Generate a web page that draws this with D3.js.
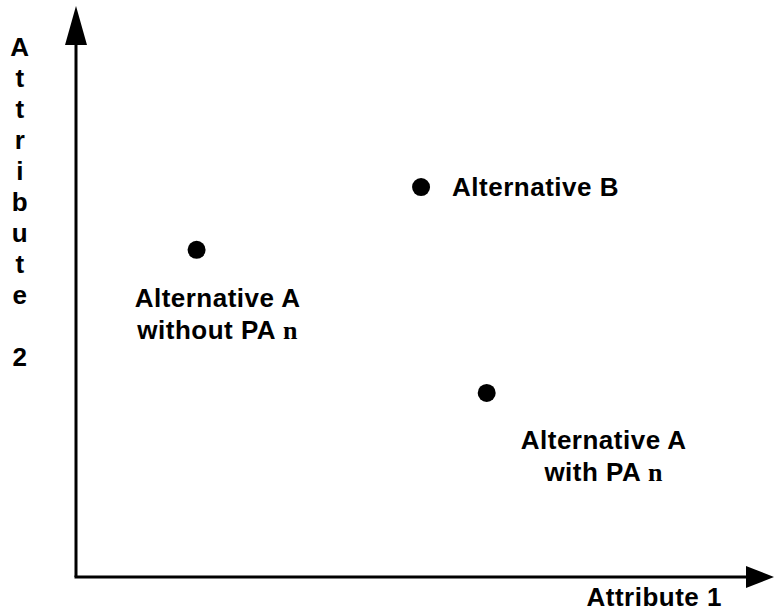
<!DOCTYPE html>
<html>
<head>
<meta charset="utf-8">
<script src="https://cdn.jsdelivr.net/npm/d3@7"></script>
<style>
  body { margin: 0; background: #fff; }
  .lbl { font-family: "Liberation Sans", Arial, sans-serif; font-weight: bold; font-size: 26px; letter-spacing: 0.5px; fill: #000; }
  .serif { font-family: "Liberation Serif", "Times New Roman", serif; font-weight: bold; }
</style>
</head>
<body>
<div id="chart"></div>
<script>
// Alternatives in attribute space (abstract units 0-100)
var names = ["Alternative A without PA n", "Alternative B", "Alternative A with PA n"];
var attr1 = [18, 51.5, 61.3];
var attr2 = [61.5, 73.3, 34.6];
var xLabel = "Attribute 1";
var yLabel = "Attribute 2";

var svgWidth = 774;
var svgHeight = 615;

var svg = d3.select("#chart")
    .append("svg")
    .attr("width", svgWidth)
    .attr("height", svgHeight);

var x = d3.scaleLinear().domain([0, 100]).range([76, 746]);
var y = d3.scaleLinear().domain([0, 100]).range([577, 45]);

// axes with arrow heads
svg.append("line")
    .attr("x1", x(0)).attr("y1", y(0))
    .attr("x2", x(0)).attr("y2", y(100))
    .attr("stroke", "#000").attr("stroke-width", 3);
svg.append("line")
    .attr("x1", x(0) - 1.5).attr("y1", y(0))
    .attr("x2", x(100)).attr("y2", y(0))
    .attr("stroke", "#000").attr("stroke-width", 3);

svg.append("path")
    .attr("d", `M${x(0) - 11},${y(100)} L${x(0)},${y(100) - 39} L${x(0) + 11},${y(100)} Z`)
    .attr("fill", "#000");
svg.append("path")
    .attr("d", `M${x(100)},${y(0) - 11} L${x(100) + 28},${y(0)} L${x(100)},${y(0) + 11} Z`)
    .attr("fill", "#000");

// points
var data = names.map((n, i) => ({ name: n, a1: attr1[i], a2: attr2[i] }));
svg.selectAll("circle")
    .data(data)
    .enter()
    .append("circle")
    .attr("cx", d => x(d.a1))
    .attr("cy", d => y(d.a2))
    .attr("r", 9)
    .attr("fill", "#000");

// point labels
function label(lines, px, py, anchor) {
    var t = svg.append("text")
        .attr("class", "lbl")
        .attr("text-anchor", anchor);
    lines.forEach(function (ln, i) {
        var ts = t.append("tspan")
            .attr("x", px)
            .attr("y", py + i * 32);
        if (ln.endsWith(" n")) {
            ts.append("tspan").text(ln.slice(0, -1));
            ts.append("tspan").attr("class", "serif").text("n");
        } else {
            ts.text(ln);
        }
    });
}
label(["Alternative A", "without PA n"], x(attr1[0]) + 21, y(attr2[0]) + 57, "middle");
label(["Alternative B"], x(attr1[1]) + 31, y(attr2[1]) + 9, "start");
label(["Alternative A", "with PA n"], x(attr1[2]) + 117, y(attr2[2]) + 56, "middle");

// axis titles
svg.append("text")
    .attr("class", "lbl")
    .attr("x", 722)
    .attr("y", 606)
    .attr("text-anchor", "end")
    .text(xLabel);

var letters = yLabel.split("");
svg.selectAll(".ylet")
    .data(letters)
    .enter()
    .append("text")
    .attr("class", "lbl ylet")
    .attr("x", 20)
    .attr("y", (d, i) => 56 + i * 31)
    .attr("text-anchor", "middle")
    .text(d => d);
</script>
</body>
</html>
